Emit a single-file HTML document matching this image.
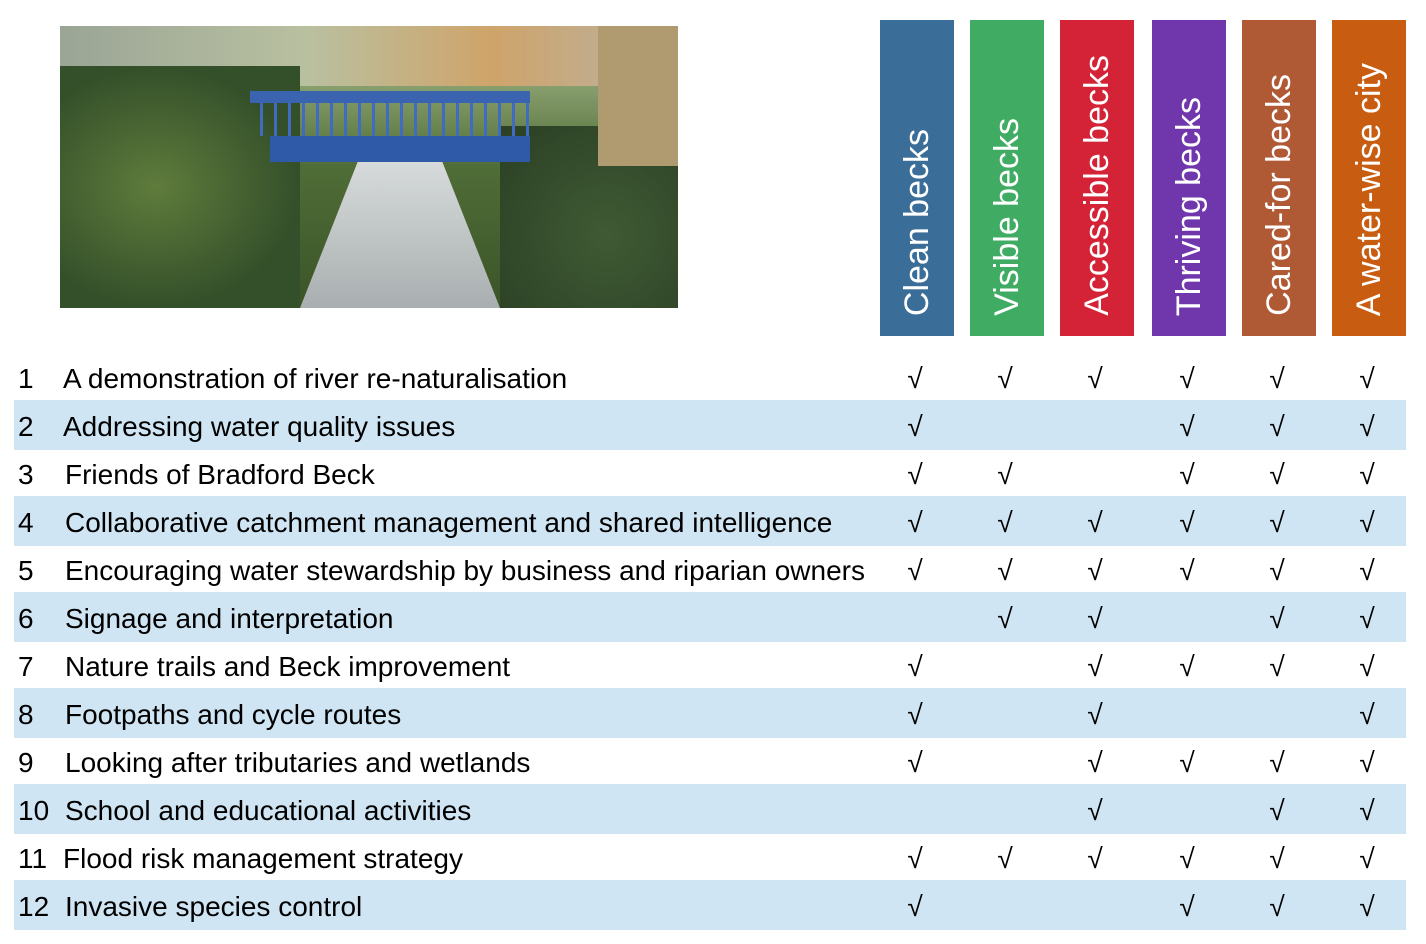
<!DOCTYPE html>
<html><head><meta charset="utf-8"><style>
body{margin:0;width:1426px;height:944px;background:#fff;position:relative;overflow:hidden;font-family:"Liberation Sans",sans-serif;}
.h{position:absolute;top:20px;width:74px;height:316px;}
.h span{position:absolute;left:50%;bottom:20px;transform:translateX(-50%) rotate(180deg);writing-mode:vertical-rl;color:#fff;font-size:34px;white-space:nowrap;line-height:74px;}
.band{position:absolute;left:14px;width:1392px;height:50px;background:#d0e5f3;}
.r{position:absolute;left:0;height:48px;line-height:48px;font-size:28px;color:#000;white-space:nowrap;}
.n{position:absolute;left:18px;}
.t{position:absolute;left:65px;}
.c{position:absolute;font-size:28px;transform:translateX(-50%);}
.photo{position:absolute;left:60px;top:26px;width:618px;height:282px;overflow:hidden;background:linear-gradient(180deg,#c7cdd0 0%,#8aa070 20%,#4f6d37 50%,#3b5428 100%);}
</style></head><body>
<div class="photo">
<div style="position:absolute;left:0;top:0;width:618px;height:60px;background:linear-gradient(90deg,#9aa596,#b9c0a0 40%,#cfa46a 70%,#b8b2a4)"></div>
<div style="position:absolute;left:0;top:40px;width:240px;height:242px;background:radial-gradient(ellipse at 40% 50%,#5f7c3c,#34502a 70%);"></div>
<div style="position:absolute;left:440px;top:100px;width:178px;height:182px;background:radial-gradient(ellipse at 60% 60%,#3f5a34,#2b3f24);"></div>
<div style="position:absolute;left:538px;top:0;width:80px;height:140px;background:#b09a70;"></div>
<div style="position:absolute;left:240px;top:130px;width:200px;height:152px;background:linear-gradient(180deg,#d8dcdc,#a9afb0);clip-path:polygon(30% 0,70% 0,100% 100%,0 100%);"></div>
<div style="position:absolute;left:190px;top:65px;width:280px;height:12px;background:#3a63b0;"></div>
<div style="position:absolute;left:210px;top:110px;width:260px;height:26px;background:#2f5aa8;"></div>
<div style="position:absolute;left:200px;top:77px;width:270px;height:33px;background:repeating-linear-gradient(90deg,#3f6cc0 0 3px,transparent 3px 14px);"></div>
</div>
<div class="h" style="left:880px;background:#3a6e99"><span>Clean becks</span></div>
<div class="h" style="left:970px;background:#40ac63"><span>Visible becks</span></div>
<div class="h" style="left:1060px;background:#d42236"><span>Accessible becks</span></div>
<div class="h" style="left:1152px;background:#6f37ab"><span>Thriving becks</span></div>
<div class="h" style="left:1242px;background:#b05a35"><span>Cared-for becks</span></div>
<div class="h" style="left:1332px;background:#c85d12"><span>A water-wise city</span></div>

<div class="band" style="top:400px"></div>
<div class="band" style="top:496px"></div>
<div class="band" style="top:592px"></div>
<div class="band" style="top:688px"></div>
<div class="band" style="top:784px"></div>
<div class="band" style="top:880px"></div>

<div id="rows"></div>
<script>
var rows=[
["1","A demonstration of river re-naturalisation",[1,1,1,1,1,1],63],
["2","Addressing water quality issues",[1,0,0,1,1,1],63],
["3","Friends of Bradford Beck",[1,1,0,1,1,1],65],
["4","Collaborative catchment management and shared intelligence",[1,1,1,1,1,1],65],
["5","Encouraging water stewardship by business and riparian owners",[1,1,1,1,1,1],65],
["6","Signage and interpretation",[0,1,1,0,1,1],65],
["7","Nature trails and Beck improvement",[1,0,1,1,1,1],65],
["8","Footpaths and cycle routes",[1,0,1,0,0,1],65],
["9","Looking after tributaries and wetlands",[1,0,1,1,1,1],65],
["10","School and educational activities",[0,0,1,0,1,1],65],
["11","Flood risk management strategy",[1,1,1,1,1,1],63],
["12","Invasive species control",[1,0,0,1,1,1],65]];
var xs=[915,1005,1095,1187,1277,1367],h="";
rows.forEach(function(r,i){var top=355+i*48;
h+='<div class="r" style="top:'+top+'px;width:1426px"><span class="n">'+r[0]+'</span><span class="t" style="left:'+r[3]+'px">'+r[1]+'</span>';
r[2].forEach(function(v,j){if(v)h+='<span class="c" style="left:'+xs[j]+'px">√</span>';});
h+='</div>';});
document.getElementById("rows").innerHTML=h;
</script>
</body></html>
